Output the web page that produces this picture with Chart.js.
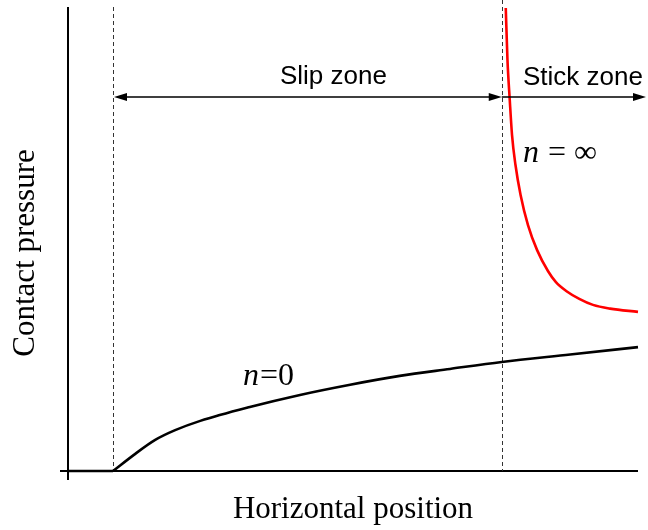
<!DOCTYPE html>
<html>
<head>
<meta charset="utf-8">
<script src="https://cdn.jsdelivr.net/npm/chart.js@4/dist/chart.umd.min.js"></script>
<style>
html,body{margin:0;padding:0;background:#fff;}
#wrap{width:648px;height:530px;}
</style>
</head>
<body>
<div id="wrap"><canvas id="c" width="648" height="530"></canvas></div>
<script>
// Horizontal position (arbitrary units 0..10) and contact pressure (arbitrary units 0..10)
const n0X   = [0.79, 1.18, 1.53, 1.88, 2.32, 3.19, 4.07, 4.95, 5.82, 6.70, 7.61, 8.81, 10.0];
const n0Y   = [0,    0.37, 0.67, 0.88, 1.08, 1.38, 1.64, 1.86, 2.05, 2.20, 2.35, 2.51, 2.67];
const unloadedX = [0, 0.79];
const unloadedY = [0, 0];
const nInfX = [7.68, 7.71, 7.75, 7.79, 7.85, 7.94, 8.07, 8.23, 8.42, 8.56, 8.74, 8.97, 9.21, 9.51, 10.0];
const nInfY = [9.98, 8.86, 8.00, 7.24, 6.60, 5.95, 5.30, 4.76, 4.31, 4.07, 3.88, 3.71, 3.58, 3.50, 3.43];
const slipStart = 0.79;   // start of slip zone
const stickStart = 7.61;  // boundary slip / stick
const xTitle = "Horizontal position";
const yTitle = "Contact pressure";
const slipLabel = "Slip zone";
const stickLabel = "Stick zone";

const toPts = (xs, ys) => xs.map((x, i) => ({x: x, y: ys[i]}));

const decor = {
  id: 'decor',
  beforeDatasetsDraw(chart) {
    const ctx = chart.ctx, xs = chart.scales.x, ys = chart.scales.y;
    const L = xs.getPixelForValue(0), R = xs.getPixelForValue(10);
    const B = ys.getPixelForValue(0), T = ys.getPixelForValue(10);
    ctx.save();
    ctx.strokeStyle = '#000';
    ctx.lineWidth = 2;
    ctx.beginPath();
    ctx.moveTo(L, T); ctx.lineTo(L, B + 9);
    ctx.moveTo(L - 8, B); ctx.lineTo(R, B);
    ctx.stroke();
    ctx.setLineDash([4, 3]);
    ctx.lineWidth = 1;
    ctx.strokeStyle = '#333';
    const xa = xs.getPixelForValue(slipStart), xb = xs.getPixelForValue(stickStart);
    ctx.beginPath();
    ctx.moveTo(Math.round(xa) + 0.5, T); ctx.lineTo(Math.round(xa) + 0.5, B);
    ctx.moveTo(Math.round(xb) + 0.5, 0); ctx.lineTo(Math.round(xb) + 0.5, B);
    ctx.stroke();
    ctx.restore();
  },
  afterDatasetsDraw(chart) {
    const ctx = chart.ctx, xs = chart.scales.x, ys = chart.scales.y;
    const xa = xs.getPixelForValue(slipStart), xb = xs.getPixelForValue(stickStart);
    const ay = ys.getPixelForValue(8.06);
    const xEnd = chart.width - 2;
    ctx.save();
    ctx.strokeStyle = '#000';
    ctx.fillStyle = '#000';
    ctx.lineWidth = 1.3;
    ctx.beginPath();
    ctx.moveTo(xa + 10, ay); ctx.lineTo(xb - 10, ay);
    ctx.moveTo(xb, ay); ctx.lineTo(xEnd - 10, ay);
    ctx.stroke();
    const head = (tip, dir) => {
      ctx.beginPath();
      ctx.moveTo(tip, ay);
      ctx.lineTo(tip - dir * 13, ay - 4);
      ctx.lineTo(tip - dir * 13, ay + 4);
      ctx.closePath();
      ctx.fill();
    };
    head(xa + 1, -1);
    head(xb, 1);
    head(xEnd, 1);

    ctx.font = '26px "Liberation Sans", Arial, sans-serif';
    ctx.textAlign = 'center';
    ctx.textBaseline = 'alphabetic';
    ctx.fillText(slipLabel, (xa + xb) / 2 + 26, ay - 13);
    ctx.fillText(stickLabel, 583, ay - 12);

    ctx.font = '31px "Liberation Serif", "Times New Roman", serif';
    ctx.fillText(xTitle, 353, 518);
    ctx.save();
    ctx.translate(34, 253);
    ctx.rotate(-Math.PI / 2);
    ctx.fillText(yTitle, 0, 0);
    ctx.restore();

    ctx.textAlign = 'left';
    const lab = (x, y, rest) => {
      ctx.font = 'italic 32px "Liberation Serif", "Times New Roman", serif';
      ctx.fillText('n', x, y);
      const w = ctx.measureText('n').width;
      ctx.font = '32px "Liberation Serif", "Times New Roman", serif';
      ctx.fillText(rest, x + w + 1, y);
    };
    lab(243, 385, '=0');
    lab(523, 162, ' = \u221E');
    ctx.restore();
  }
};

const lineStyle = (color) => ({
  borderColor: color,
  borderWidth: 2.6,
  pointRadius: 0,
  cubicInterpolationMode: 'monotone',
  fill: false,
  clip: false
});

new Chart(document.getElementById('c'), {
  type: 'line',
  data: {
    datasets: [
      Object.assign({ label: 'n=0 (unloaded)', data: toPts(unloadedX, unloadedY) }, lineStyle('#000')),
      Object.assign({ label: 'n=0', data: toPts(n0X, n0Y) }, lineStyle('#000')),
      Object.assign({ label: 'n=\u221E', data: toPts(nInfX, nInfY) }, lineStyle('#ff0000'))
    ]
  },
  options: {
    responsive: false,
    animation: false,
    devicePixelRatio: 1,
    layout: { padding: { left: 68, right: 10, top: 7, bottom: 59 } },
    plugins: { legend: { display: false }, tooltip: { enabled: false } },
    scales: {
      x: { type: 'linear', min: 0, max: 10, display: false },
      y: { type: 'linear', min: 0, max: 10, display: false }
    }
  },
  plugins: [decor]
});
</script>
</body>
</html>
